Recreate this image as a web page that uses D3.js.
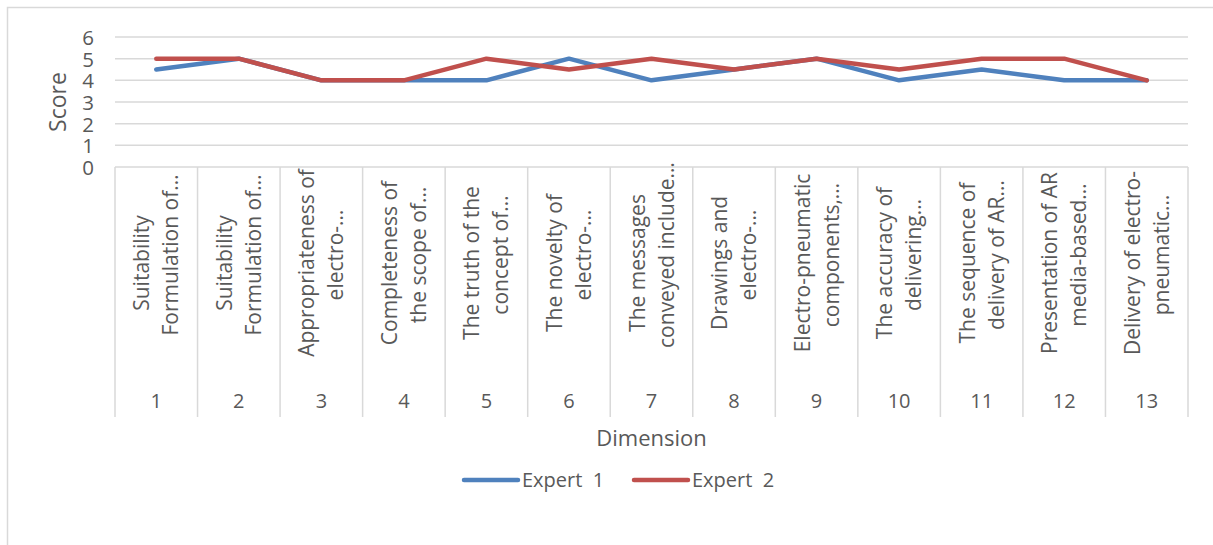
<!DOCTYPE html>
<html>
<head>
<meta charset="utf-8">
<script src="https://cdn.jsdelivr.net/npm/d3@7"></script>
<style>
  html, body { margin: 0; padding: 0; background: #fff; }
  svg { display: block; font-family: "Open Sans", sans-serif; }
</style>
</head>
<body>
<svg id="chart" width="1213" height="545"></svg>
<script>
// ---- data ----
const categories = ["1","2","3","4","5","6","7","8","9","10","11","12","13"];
const labelLine1 = [
  "Suitability", "Suitability", "Appropriateness of", "Completeness of",
  "The truth of the", "The novelty of", "The messages", "Drawings and",
  "Electro-pneumatic", "The accuracy of", "The sequence of",
  "Presentation of AR", "Delivery of electro-"
];
const labelLine2 = [
  "Formulation of…", "Formulation of…", "electro-…", "the scope of…",
  "concept of…", "electro-…", "conveyed include…", "electro-…",
  "components,…", "delivering…", "delivery of AR…", "media-based…",
  "pneumatic…"
];
const expert1 = [4.5, 5, 4, 4, 4, 5, 4, 4.5, 5, 4, 4.5, 4, 4];
const expert2 = [5, 5, 4, 4, 5, 4.5, 5, 4.5, 5, 4.5, 5, 5, 4];
const seriesNames = ["Expert  1", "Expert  2"];
const yTicks = [0, 1, 2, 3, 4, 5, 6];

// ---- layout ----
const W = 1213, H = 545;
const plot = { left: 115, right: 1188, top: 37, bottom: 167 };
const textColor = "#595959";
const gridColor = "#d9d9d9";
const colors = ["#4f81bd", "#c0504d"];

const svg = d3.select("#chart");

// outer chart border (left + top visible)
svg.append("rect")
  .attr("x", 7.5).attr("y", 7.5)
  .attr("width", W + 10).attr("height", H + 10)
  .attr("fill", "#fff")
  .attr("stroke", gridColor).attr("stroke-width", 1.5);

const x = d3.scaleBand().domain(categories).range([plot.left, plot.right]).padding(0);
const y = d3.scaleLinear().domain([0, 6]).range([plot.bottom, plot.top]);

// gridlines
svg.append("g").selectAll("line").data(yTicks).join("line")
  .attr("x1", plot.left).attr("x2", plot.right)
  .attr("y1", d => y(d)).attr("y2", d => y(d))
  .attr("stroke", gridColor).attr("stroke-width", 1.5);

// y tick labels
const yAxis = d3.axisLeft(y).tickValues(yTicks).tickFormat(d3.format("d")).tickSize(0).tickPadding(0);
const yg = svg.append("g").attr("transform", `translate(${plot.left - 21},0)`).call(yAxis);
yg.select(".domain").remove();
yg.selectAll("text")
  .attr("fill", textColor).attr("font-size", 20.5)
  .attr("font-family", "Open Sans, sans-serif")
  .attr("dy", "0.36em");

// y title
svg.append("text")
  .attr("transform", `translate(66,${(plot.top + plot.bottom) / 2}) rotate(-90)`)
  .attr("text-anchor", "middle")
  .attr("fill", textColor).attr("font-size", 23)
  .text("Score");

// category separators
const sepBottom = 417;
const seps = categories.map(c => x(c)).concat([plot.right]);
svg.append("g").selectAll("line").data(seps).join("line")
  .attr("x1", d => d).attr("x2", d => d)
  .attr("y1", plot.bottom).attr("y2", sepBottom)
  .attr("stroke", gridColor).attr("stroke-width", 1.5);

// category labels
const catG = svg.append("g");
categories.forEach((c, i) => {
  const cx = x(c) + x.bandwidth() / 2;
  catG.append("text")
    .attr("transform", `translate(${cx - 7},263) rotate(-90)`)
    .attr("text-anchor", "middle").attr("fill", textColor).attr("font-size", 21)
    .text(labelLine1[i]);
  catG.append("text")
    .attr("transform", `translate(${cx + 22},255) rotate(-90)`)
    .attr("text-anchor", "middle").attr("fill", textColor).attr("font-size", 21)
    .text(labelLine2[i]);
  catG.append("text")
    .attr("x", cx).attr("y", 408)
    .attr("text-anchor", "middle").attr("fill", textColor).attr("font-size", 20)
    .text(c);
});

// x title
svg.append("text")
  .attr("x", (plot.left + plot.right) / 2).attr("y", 446)
  .attr("text-anchor", "middle").attr("fill", textColor).attr("font-size", 22)
  .text("Dimension");

// series lines
const line = d3.line()
  .x((d, i) => x(categories[i]) + x.bandwidth() / 2)
  .y(d => y(d));
[expert1, expert2].forEach((s, k) => {
  svg.append("path")
    .datum(s)
    .attr("d", line)
    .attr("fill", "none")
    .attr("stroke", colors[k])
    .attr("stroke-width", 4.5)
    .attr("stroke-linejoin", "round")
    .attr("stroke-linecap", "round");
});

// legend
const legendX = [464, 634];
seriesNames.forEach((n, k) => {
  const g = svg.append("g").attr("transform", `translate(${legendX[k]},480)`);
  g.append("line").attr("x1", 0).attr("x2", 54).attr("y1", 0).attr("y2", 0)
    .attr("stroke", colors[k]).attr("stroke-width", 4.5).attr("stroke-linecap", "round");
  g.append("text").attr("x", 58).attr("y", 7)
    .attr("fill", textColor).attr("font-size", 20)
    .attr("xml:space", "preserve").style("white-space", "pre")
    .text(n);
});
</script>
</body>
</html>
